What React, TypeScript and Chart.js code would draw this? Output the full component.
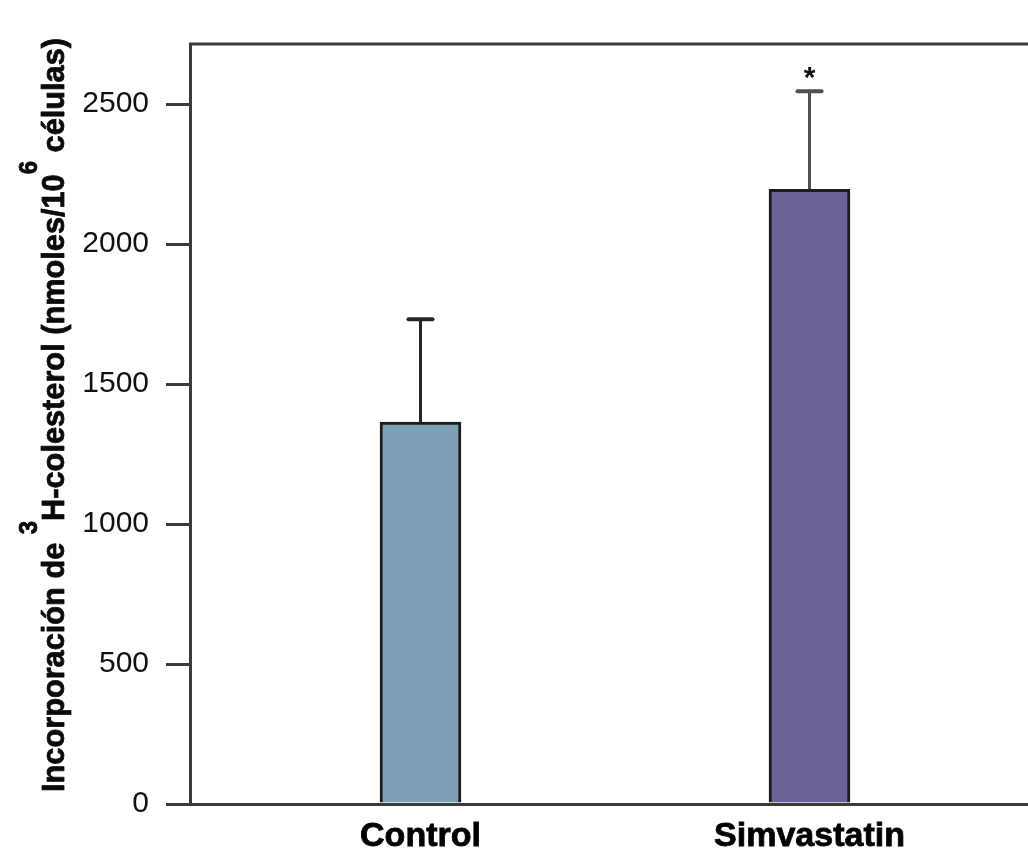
import React, { useEffect, useRef } from 'react';
import { Chart, registerables } from 'chart.js';

Chart.register(...registerables);

// ---- data ----
const categories = ['Control', 'Simvastatin'];
const means = [1364, 2196];
const errors = [368, 350];
const significance = ['', '*'];
const yTicks = [0, 500, 1000, 1500, 2000, 2500];
const barColors = ['#7da0b6', '#6d6298'];
const capColors = ['#262626', '#505050'];
const yTitleParts = [
  { text: 'Incorporación de ', sup: false },
  { text: '3', sup: true },
  { text: 'H-colesterol (nmoles/10', sup: false },
  { text: '6', sup: true },
  { text: ' células)', sup: false },
];
const Y_MAX = 2715;
const X_MIN = -0.5925;
const X_MAX = 1.5617;

const FONT = '"Liberation Sans", Arial, Helvetica, sans-serif';

const frameAndErrors = {
  id: 'frameAndErrors',
  afterDatasetsDraw(chart: any) {
    const { ctx, chartArea, scales } = chart;
    const xs = scales.x;
    const ys = scales.y;
    ctx.save();
    // top frame line
    ctx.strokeStyle = '#3a3a3a';
    ctx.lineWidth = 3;
    ctx.beginPath();
    ctx.moveTo(chartArea.left - 1, chartArea.top);
    ctx.lineTo(chartArea.right, chartArea.top);
    ctx.stroke();
    // error bars
    means.forEach((m, i) => {
      const x = xs.getPixelForValue(i);
      const yBar = ys.getPixelForValue(m);
      const yTop = ys.getPixelForValue(m + errors[i]);
      ctx.strokeStyle = capColors[i];
      ctx.lineWidth = 3;
      ctx.lineCap = 'butt';
      ctx.beginPath();
      ctx.moveTo(x, yBar);
      ctx.lineTo(x, yTop);
      ctx.stroke();
      ctx.lineWidth = 4;
      ctx.lineCap = 'round';
      ctx.beginPath();
      ctx.moveTo(x - 12, yTop);
      ctx.lineTo(x + 12, yTop);
      ctx.stroke();
      if (significance[i]) {
        ctx.fillStyle = '#111';
        ctx.font = `bold 30px ${FONT}`;
        ctx.textAlign = 'center';
        ctx.textBaseline = 'alphabetic';
        ctx.fillText(significance[i], x, yTop - 4);
      }
    });
    ctx.restore();
  },
  afterDraw(chart: any) {
    const { ctx, chartArea } = chart;
    const mainFont = `bold 32px ${FONT}`;
    const supFont = `bold 25px ${FONT}`;
    const squeeze = 0.96;
    ctx.save();
    let total = 0;
    const widths = yTitleParts.map((p) => {
      ctx.font = p.sup ? supFont : mainFont;
      const w = ctx.measureText(p.text).width;
      total += w;
      return w;
    });
    const cy = (chartArea.top + chartArea.bottom) / 2 - 9;
    ctx.translate(64, cy);
    ctx.rotate(-Math.PI / 2);
    ctx.scale(squeeze, 1);
    ctx.fillStyle = '#0a0a0a';
    ctx.strokeStyle = '#0a0a0a';
    ctx.lineWidth = 0.8;
    ctx.lineJoin = 'round';
    ctx.textAlign = 'left';
    ctx.textBaseline = 'alphabetic';
    let cx = -total / 2;
    yTitleParts.forEach((p, i) => {
      ctx.font = p.sup ? supFont : mainFont;
      const y = p.sup ? -27 : 0;
      ctx.fillText(p.text, cx, y);
      ctx.strokeText(p.text, cx, y);
      cx += widths[i];
    });
    ctx.restore();
  },
};

export default function App() {
  const ref = useRef<HTMLCanvasElement | null>(null);
  useEffect(() => {
    if (!ref.current) return;
    Chart.defaults.font.family = FONT;
    const chart = new Chart(ref.current, {
      type: 'bar',
      data: {
        datasets: [
          {
            data: means.map((y, i) => ({ x: i, y })),
            backgroundColor: barColors,
            borderColor: '#1c1c1c',
            borderWidth: 3,
            barThickness: 81,
          },
        ],
      },
      options: {
        responsive: false,
        animation: false,
        events: [],
        layout: { padding: { top: 44, left: 0, right: 0, bottom: 0 } },
        plugins: { legend: { display: false }, tooltip: { enabled: false } },
        scales: {
          x: {
            type: 'linear',
            min: X_MIN,
            max: X_MAX,
            offset: false,
            grid: { display: false, drawTicks: false },
            border: { display: true, color: '#3a3a3a', width: 3 },
            afterBuildTicks: (s: any) => {
              s.ticks = categories.map((_, i) => ({ value: i }));
            },
            afterFit: (s: any) => {
              s.height = 49;
            },
            ticks: {
              autoSkip: false,
              maxRotation: 0,
              padding: 12,
              color: '#000',
              textStrokeColor: '#000',
              textStrokeWidth: 0.8,
              font: { size: 34, weight: 'bold', family: FONT },
              callback: (v: any) => categories[v as number] ?? '',
            },
          },
          y: {
            min: 0,
            max: Y_MAX,
            grid: {
              display: true,
              drawOnChartArea: false,
              drawTicks: true,
              tickLength: 24,
              color: '#3a3a3a',
              lineWidth: 3,
            },
            border: { display: true, color: '#3a3a3a', width: 3 },
            afterBuildTicks: (s: any) => {
              s.ticks = yTicks.map((v) => ({ value: v }));
            },
            afterFit: (s: any) => {
              s.width = 190;
            },
            ticks: {
              autoSkip: false,
              padding: 17,
              color: '#111',
              font: { size: 30, family: FONT },
              callback: (v: any) => String(v),
            },
            title: { display: false },
          },
        },
      },
      plugins: [frameAndErrors],
    });
    return () => chart.destroy();
  }, []);
  return (
    <div style={{ position: 'fixed', left: 0, top: 0, width: 1028, height: 853, background: '#fff' }}>
      <canvas ref={ref} width={1028} height={853} style={{ display: 'block' }} />
    </div>
  );
}
